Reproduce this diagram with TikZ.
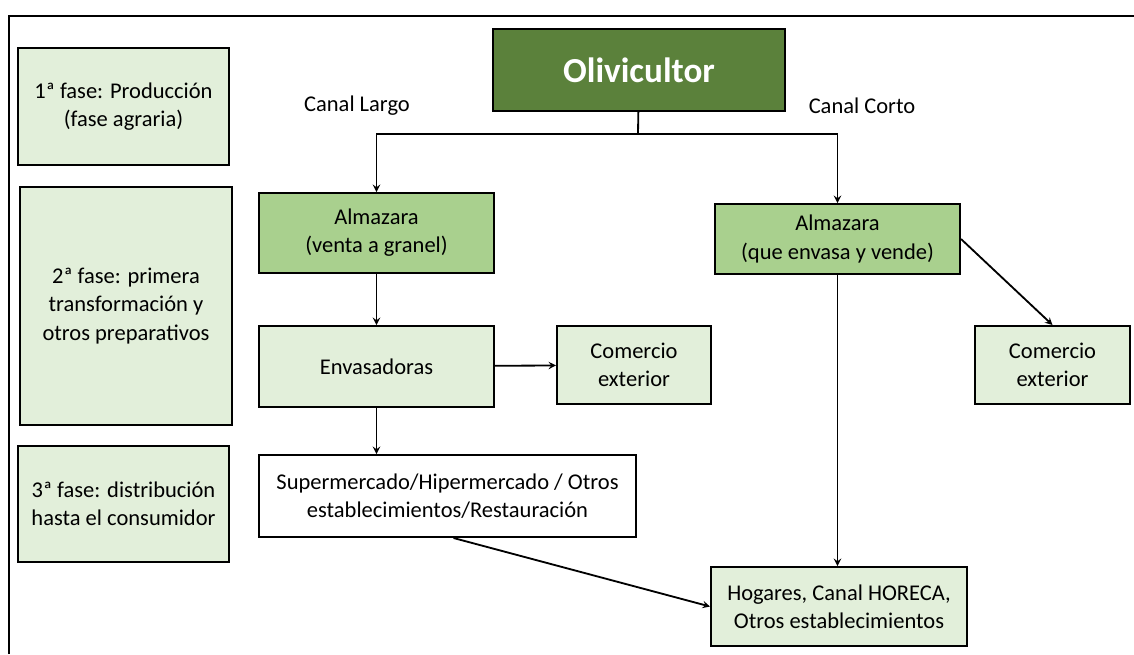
\documentclass[tikz,border=0pt]{standalone}
\usepackage{fontspec}
\setmainfont{Carlito}
\usepackage{tikz}
\usetikzlibrary{arrows}
\usepackage{xcolor}

\definecolor{verdeoscuro}{HTML}{5B813B}
\definecolor{verdemedio}{HTML}{A9D08E}
\definecolor{verdeclaro}{HTML}{E2EFDA}

\begin{document}
\begin{tikzpicture}[x=0.025cm,y=-0.025cm]
    \tikzstyle{caja} = [draw,line width=1.4pt,align=center,inner sep=0pt,font=\fontsize{16}{20}\selectfont]
    \tikzstyle{fase} = [caja,fill=verdeclaro]
    \tikzstyle{etapa} = [caja,fill=verdemedio]
    \tikzstyle{flecha} = [draw,line width=1.3pt,-stealth]
    \useasboundingbox (0,0) rectangle (1134,654);
    \draw [line width=1.4pt] (9,654) -- (9,16) -- (1134,16);
    % fases
    \node [fase,minimum width=5.275cm,minimum height=2.925cm] (f1) at (123.5,106.5) {1ª fase: Producción\\(fase agraria)};
    \node [fase,minimum width=5.3cm,minimum height=5.95cm] (f2) at (126,306) {2ª fase: primera\\transformación y\\otros preparativos};
    \node [fase,minimum width=5.275cm,minimum height=2.9cm] (f3) at (123.5,504) {3ª fase: distribución\\hasta el consumidor};
    % cadena
    \node [caja,fill=verdeoscuro,text=white,font=\fontsize{25}{30}\selectfont\bfseries,minimum width=7.3cm,minimum height=2.05cm] (oliv) at (639,70) {Olivicultor};
    \node [font=\fontsize{16}{20}\selectfont] (largo) at (357,106) {Canal Largo};
    \node [font=\fontsize{16}{20}\selectfont] (corto) at (862,106) {Canal Corto};
    \node [etapa,minimum width=5.875cm,minimum height=2cm] (alm1) at (376.5,233) {Almazara\\(venta a granel)};
    \node [etapa,minimum width=6.125cm,minimum height=1.75cm] (alm2) at (837.5,239) {Almazara\\(que envasa y vende)};
    \node [fase,minimum width=5.875cm,minimum height=2.025cm] (env) at (376.5,366.5) {Envasadoras};
    \node [fase,minimum width=3.85cm,minimum height=1.95cm] (com1) at (634,365) {Comercio\\exterior};
    \node [fase,minimum width=3.875cm,minimum height=1.95cm] (com2) at (1052.5,365) {Comercio\\exterior};
    \node [caja,fill=white,minimum width=9.425cm,minimum height=2.05cm] (sup) at (447.5,496) {Supermercado/Hipermercado / Otros\\establecimientos/Restauración};
    \node [fase,minimum width=6.4cm,minimum height=1.975cm] (hog) at (839,606.5) {Hogares, Canal HORECA,\\Otros establecimientos};
    % conexiones
    \coordinate (j) at (638,134);
    \draw [line width=1.3pt] (oliv) -- (j);
    \path [flecha] (j) -| (alm1);
    \path [flecha] (j) -| (alm2);
    \path [flecha] (alm1) -- (env);
    \path [flecha] (env) -- (com1);
    \path [flecha] (env.south) -- (env.south |- sup.north);
    \path [flecha] (alm2.east) -- (com2.north);
    \path [flecha] (alm2) -- (alm2 |- hog.north);
    \path [flecha] ([xshift=0.15cm]sup.south) -- (hog.west);
\end{tikzpicture}
\end{document}
